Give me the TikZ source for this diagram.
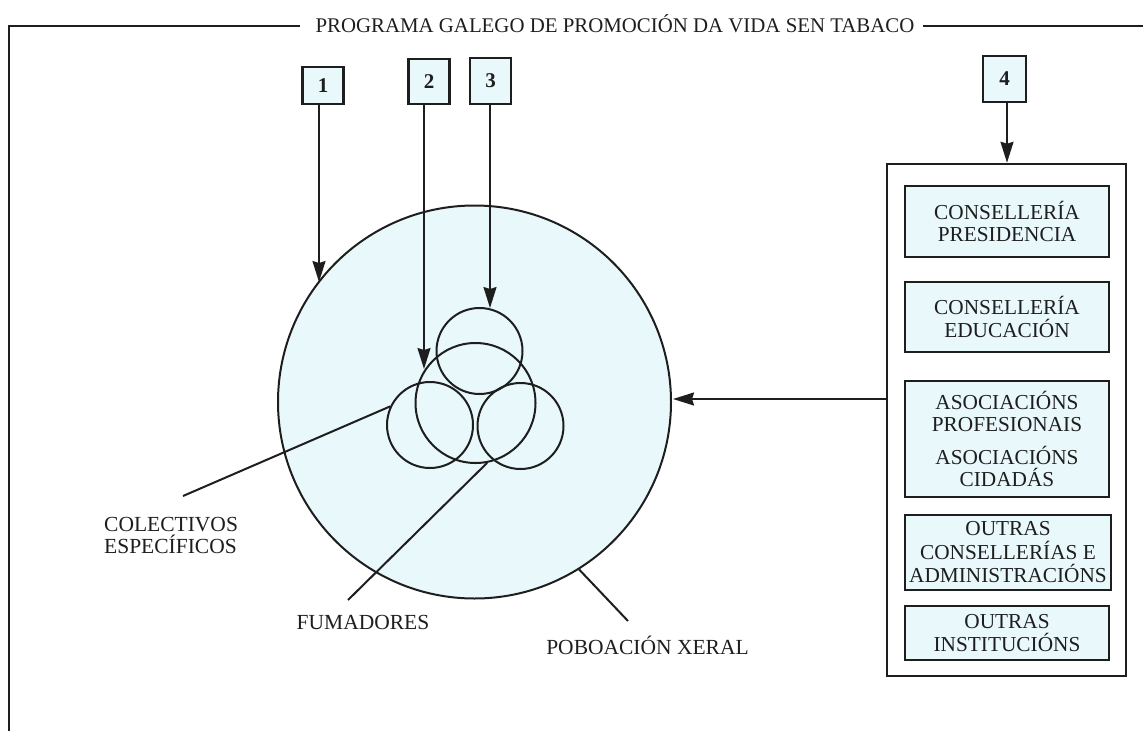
\documentclass[tikz,border=0pt]{standalone}
\usepackage{fontspec}
\setmainfont{Liberation Serif}
\usetikzlibrary{arrows.meta}
\definecolor{paleblue}{RGB}{233,248,251}
\definecolor{ink}{RGB}{30,30,30}
\begin{document}
\begin{tikzpicture}[x=1pt,y=-1pt,
  lw/.style={line width=2pt, draw=ink},
  arr/.style={lw, -{Stealth[length=21pt,width=13pt,inset=2pt]}},
  numbox/.style={draw=ink, line width=2.5pt, fill=paleblue, inner sep=0pt, minimum width=41pt, text=ink, font=\fontsize{21}{22}\selectfont\bfseries},
  ibox/.style={draw=ink, line width=2.5pt, fill=paleblue, inner sep=0pt, minimum width=204pt, align=center, text=ink, font=\fontsize{21.3}{22.5}\selectfont},
  circ/.style={circle, lw, inner sep=0pt},
  lbl/.style={text=ink, inner sep=0pt, font=\fontsize{21.5}{21.5}\selectfont}
]
\useasboundingbox (0,0) rectangle (1143,731);

% frame and title
\node[lbl, anchor=base, font=\fontsize{20.85}{22}\selectfont] (title) at (615,32) {PROGRAMA GALEGO DE PROMOCIÓN DA VIDA SEN TABACO};
\coordinate (ftl) at (9,26);
\coordinate (fbl) at (9,731);
\coordinate (ftr) at (1143,26);
\coordinate (tle) at (300,26);
\coordinate (tre) at (923,26);
\draw[lw, line width=2.3pt] (tle) -- (ftl) -- (fbl);
\draw[lw, line width=2.3pt] (tre) -- (ftr);

% population circles
\node[circ, fill=paleblue, minimum size=393pt] (pop) at (474.5,402) {};
\node[circ, minimum size=86pt] (c3) at (479.5,351) {};
\node[circ, minimum size=120pt] (c2) at (475.5,403) {};
\node[circ, minimum size=86pt] (cl) at (430,425) {};
\node[circ, minimum size=86pt] (cr) at (520.5,426) {};

% number boxes
\node[numbox, minimum height=37pt] (n1) at (323,85.5) {1};
\node[numbox, minimum height=45pt] (n2) at (429,81.5) {2};
\node[numbox, minimum height=46pt] (n3) at (490.5,81) {3};
\node[numbox, minimum height=46pt, minimum width=43pt] (n4) at (1004.5,79) {4};

\coordinate (t1) at (319,282);
\coordinate (t2) at (424,369);
\coordinate (t3) at (490,308);
\draw[arr] (n1.south -| t1) -- (t1);
\draw[arr] (n2.south -| t2) -- (t2);
\draw[arr] (n3.south -| t3) -- (t3);

% organisations
\node[draw=ink, line width=2.5pt, minimum width=239pt, minimum height=512pt, inner sep=0pt] (org) at (1006.5,420) {};
\coordinate (s4) at (1007,0);
\draw[arr] (n4.south -| s4) -- (org.north -| s4);

\node[ibox, minimum height=71pt] (o1) at (1007,221.5) {CONSELLERÍA\\PRESIDENCIA};
\node[ibox, minimum height=70pt] (o2) at (1007,317) {CONSELLERÍA\\EDUCACIÓN};
\node[ibox, minimum height=116pt] (o3) at (1007,439) {ASOCIACIÓNS\\PROFESIONAIS\\[10pt]ASOCIACIÓNS\\CIDADÁS};
\node[ibox, minimum height=75pt, minimum width=206pt] (o4) at (1008,552.5) {OUTRAS\\[1pt]CONSELLERÍAS E\\[1pt]ADMINISTRACIÓNS};
\node[ibox, minimum height=54pt] (o5) at (1007,633) {OUTRAS\\INSTITUCIÓNS};

\coordinate (th) at (673,399);
\draw[arr] (org.west |- th) -- (th);

% leaders and labels
\coordinate (lc) at (183,496);
\coordinate (lf) at (348,600);
\coordinate (lp) at (628,621);
\draw[lw] (cl.155.8) -- (lc);
\draw[lw] (c2.-79) -- (lf);
\draw[lw] (pop.-58.7) -- (lp);

\node[lbl, anchor=west, align=left] (colect) at (104,535.5) {COLECTIVOS\\ESPECÍFICOS};
\node[lbl] (fum) at (363,622) {FUMADORES};
\node[lbl] (pob) at (647.5,645) {POBOACIÓN XERAL};
\end{tikzpicture}
\end{document}
